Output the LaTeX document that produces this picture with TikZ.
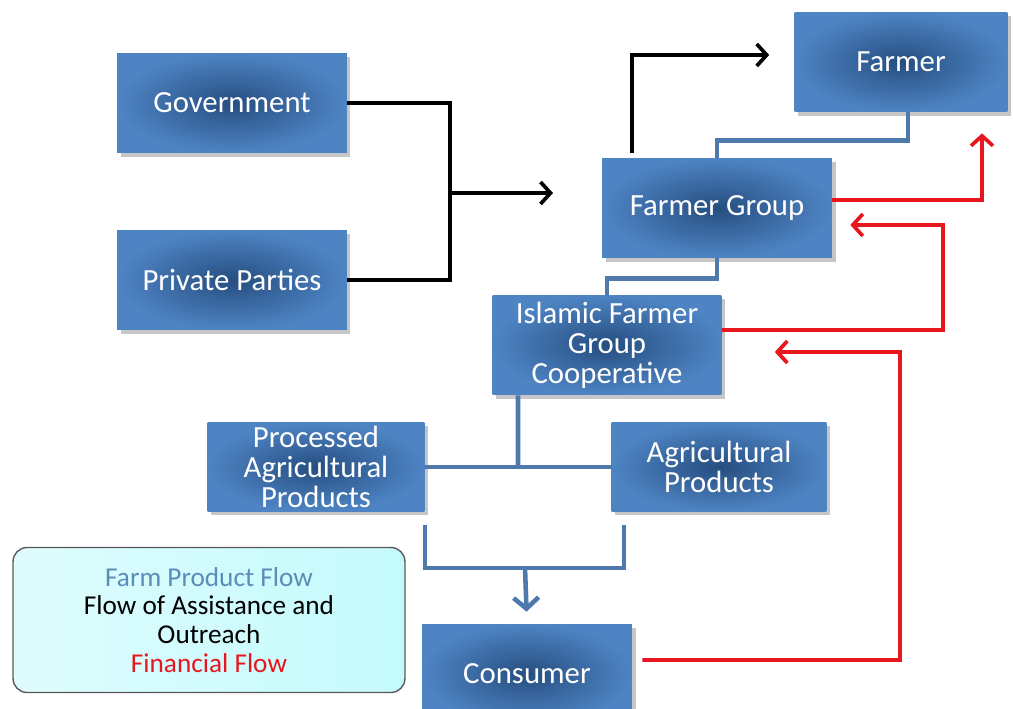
\documentclass[tikz,border=0pt]{standalone}
\usepackage{fontspec}
\setmainfont{Carlito}
\usepackage{xcolor}
\usetikzlibrary{
    arrows.meta,
    positioning,
    calc,
    shadows
}
\definecolor{boxlight}{RGB}{78, 132, 196}
\definecolor{boxdark}{RGB}{38, 78, 128}
\definecolor{productblue}{RGB}{79, 121, 172}
\definecolor{financered}{RGB}{232, 22, 30}
\definecolor{legendcyan}{RGB}{196, 250, 252}
\definecolor{legendtext}{RGB}{92, 140, 184}

\begin{document}
\begin{tikzpicture}[
        x=0.02cm, y=-0.02cm,
        block/.style={rectangle, shading=radial, inner color=boxdark, outer color=boxlight,
            text=white, align=center, font=\fontsize{17.5}{17}\selectfont,
            minimum height=2cm, inner sep=2pt,
            drop shadow={shadow xshift=2pt, shadow yshift=-2pt, opacity=0.45}},
        assist/.style={line width=2.1pt, black},
        arrow/.style={assist, -{Straight Barb[length=2mm, width=4.4mm]}},
        product/.style={line width=2.6pt, productblue},
        productarrow/.style={product, -{Straight Barb[length=2.2mm, width=5mm]}},
        finance/.style={line width=2.1pt, financered, -{Straight Barb[length=2mm, width=4.4mm]}},
        legendbox/.style={rounded corners=0.28cm, draw=black!65, line width=0.8pt,
            left color=legendcyan!55!white, right color=legendcyan,
            align=center, font=\fontsize{15.5}{16.4}\selectfont}
    ]
        \useasboundingbox (0, 0) rectangle (1013, 709);

        % Sources of assistance
        \node[block, minimum width=4.6cm] (gov) at (232, 103) {Government};
        \node[block, minimum width=4.6cm] (priv) at (232, 280) {Private Parties};

        % Farmers
        \node[block, minimum width=4.26cm] (farmer) at (901, 62) {Farmer};
        \node[block, minimum width=4.6cm] (fgroup) at (717, 208) {Farmer Group};
        \node[block, minimum width=4.58cm] (coop) at (607, 345) {
            Islamic Farmer\\
            Group\\
            Cooperative
        };

        % Products
        \node[block, minimum width=4.34cm, minimum height=1.78cm] (proc) at (316, 467) {
            Processed\\
            Agricultural\\
            Products
        };
        \node[block, minimum width=4.3cm, minimum height=1.78cm] (agri) at (719, 467) {
            Agricultural\\
            Products
        };

        % Consumer
        \node[block, minimum width=4.2cm] (cons) at (527, 674) {Consumer};

        % Legend
        \node[legendbox, minimum width=7.84cm, minimum height=2.9cm] (legend) at (209, 620) {
            \textcolor{legendtext}{Farm Product Flow}\\
            Flow of Assistance and\\
            Outreach\\
            \textcolor{financered}{Financial Flow}
        };

        % Helper points
        \coordinate (join) at (450, 193);
        \coordinate (joinend) at (553, 193);
        \coordinate (split) at (518, 467);
        \coordinate (merge) at (525, 568);
        \coordinate (finA) at (943, 225);
        \coordinate (finB) at (900, 352);

        % Assistance and outreach
        \draw[assist] (gov.east) -| (join) |- (priv.east);
        \draw[arrow] (join) -- (joinend);
        \draw[arrow] ([xshift=0.6cm, yshift=0.1cm]fgroup.north west) |- ([xshift=-0.5cm, yshift=0.14cm]farmer.west);

        % Farm products
        \draw[product] ([xshift=0.14cm]farmer.south) -- ++(0, 28) -| (fgroup.north);
        \draw[product] (fgroup.south) -- ++(0, 20) -| (coop.north);
        \draw[product] ([xshift=-1.78cm]coop.south) -- (split);
        \draw[product] (proc.east) -- (agri.west);
        \draw[product] ([yshift=-0.26cm]proc.south east) |- (merge)
            -| ([shift={(0.26cm, -0.26cm)}]agri.south west);
        \draw[productarrow, shorten >=0.24cm] (merge) -- (cons.north);

        % Financial flow
        \draw[finance, shorten >=0.42cm] ([yshift=0.16cm]fgroup.east) -| ([xshift=1.62cm]farmer.south);
        \draw[finance] ([yshift=0.3cm]coop.east) -| (finA) -- ([shift={(0.36cm, -0.34cm)}]fgroup.east);
        \draw[finance] ([xshift=0.2cm, yshift=0.28cm]cons.east) -| (finB) -- ([shift={(1.06cm, -0.14cm)}]coop.east);
    \end{tikzpicture}
\end{document}
